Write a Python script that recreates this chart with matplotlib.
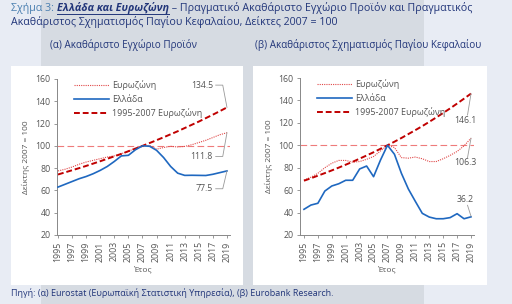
import matplotlib
matplotlib.use("Agg")
import matplotlib.pyplot as plt
from matplotlib.patches import Rectangle
from matplotlib.lines import Line2D

plt.rcParams['font.family'] = ['Open Sans', 'DejaVu Sans']

years = list(range(1995, 2020))

# (a) GDP, 2007 = 100
gdp_ez = [77.5, 79.0, 81.0, 83.5, 85.5, 87.0, 88.5, 90.0, 91.0, 93.0, 95.0, 98.0, 100.0,
          100.4, 97.0, 98.5, 99.6, 99.0, 99.5, 101.0, 103.0, 105.0, 107.5, 110.0, 111.8]
gdp_gr = [63.0, 65.5, 68.0, 70.5, 72.5, 75.0, 78.0, 81.5, 86.0, 91.0, 91.5, 96.5, 100.0,
          99.7, 96.0, 89.5, 81.5, 75.5, 73.5, 73.6, 73.5, 73.4, 74.5, 76.0, 77.5]
gdp_trend = [74.3, 76.2, 78.1, 80.0, 82.0, 84.1, 86.2, 88.4, 90.6, 92.8, 95.2, 97.5, 100.0,
             102.5, 105.1, 107.7, 110.4, 113.1, 116.0, 118.9, 121.8, 124.9, 128.0, 131.2, 134.5]

# (b) Gross fixed capital formation, 2007 = 100
gfcf_ez = [69.0, 71.5, 75.0, 80.0, 84.0, 86.5, 86.5, 85.0, 85.5, 87.5, 90.0, 95.0, 100.0,
           98.0, 89.0, 88.5, 89.5, 88.0, 85.5, 85.5, 88.0, 91.0, 94.5, 99.5, 106.3]
gfcf_gr = [42.9, 46.7, 48.3, 59.2, 63.7, 65.7, 68.8, 68.8, 78.9, 81.5, 72.0, 86.9, 100.0,
           92.0, 75.0, 61.0, 50.0, 39.3, 36.0, 34.5, 34.5, 35.5, 39.0, 34.5, 36.2]
gfcf_trend = [68.4, 70.6, 72.9, 75.2, 77.6, 80.1, 82.7, 85.3, 88.1, 90.9, 93.8, 96.9, 100.0,
              103.2, 106.5, 110.0, 113.5, 117.1, 120.9, 124.8, 128.8, 132.9, 137.2, 141.6, 146.1]

legend_labels = ['Ευρωζώνη', 'Ελλάδα', '1995-2007 Ευρωζώνη']
xticks = list(range(1995, 2020, 2))
yticks = [20, 40, 60, 80, 100, 120, 140, 160]

W, H = 512, 304
fig = plt.figure(figsize=(W / 100, H / 100), dpi=100)
fig.patch.set_facecolor('#e8ecf4')

def px_rect(x, y, w, h, color, z=0):
    fig.patches.append(Rectangle((x / W, 1 - (y + h) / H), w / W, h / H,
                                 transform=fig.transFigure, facecolor=color,
                                 edgecolor='none', zorder=z))

px_rect(41, 0, 383, 304, '#d6dbe2', 0)
px_rect(11, 66, 232, 219, 'white', 1)
px_rect(253, 66, 234, 219, 'white', 1)

NAVY = '#22367a'
TICK = '#555555'
fs_title = 7.7

def fy(y):
    return 1 - y / H

r = fig.canvas.get_renderer()
t1 = fig.text(11 / W, fy(8), 'Σχήμα 3: ', color='#4a7fb0', fontsize=fs_title, va='center', ha='left')
bb = t1.get_window_extent(r)
t2 = fig.text(bb.x1 / W, fy(8), 'Ελλάδα και Ευρωζώνη', color=NAVY, fontsize=fs_title,
              va='center', ha='left', fontweight='bold', fontstyle='italic')
bb2 = t2.get_window_extent(r)
fig.lines.append(Line2D([bb2.x0 / W, bb2.x1 / W], [fy(14), fy(14)], color=NAVY, lw=0.7,
                        transform=fig.transFigure))
fig.text(bb2.x1 / W, fy(8), ' – Πραγματικό Ακαθάριστο Εγχώριο Προϊόν και Πραγματικός',
         color=NAVY, fontsize=fs_title, va='center', ha='left')
fig.text(11 / W, fy(22), 'Ακαθάριστος Σχηματισμός Παγίου Κεφαλαίου, Δείκτες 2007 = 100',
         color=NAVY, fontsize=fs_title, va='center', ha='left')

fig.text(50 / W, fy(45), '(α) Ακαθάριστο Εγχώριο Προϊόν', color=NAVY, fontsize=7.15,
         va='center', ha='left')
fig.text(255 / W, fy(45), '(β) Ακαθάριστος Σχηματισμός Παγίου Κεφαλαίου', color=NAVY,
         fontsize=7.15, va='center', ha='left')
fig.text(11 / W, fy(293), 'Πηγή: (α) Eurostat (Ευρωπαϊκή Στατιστική Υπηρεσία), (β) Eurobank Research.',
         color=NAVY, fontsize=6.45, va='center', ha='left')


def make_axes(x0, x1, ytop, ybot, xl, ez, gr, tr):
    ax = fig.add_axes([x0 / W, 1 - ybot / H, (x1 - x0) / W, (ybot - ytop) / H])
    ax.set_facecolor('none')
    ax.set_zorder(3)
    ax.set_xlim(*xl)
    ax.set_ylim(20, 160)
    ax.axhline(100, color='#ee7b7b', lw=0.8, dashes=(6, 3), zorder=1)
    l1, = ax.plot(years, ez, color='#e04848', lw=0.8, ls=(0, (1, 1)), zorder=2)
    l2, = ax.plot(years, gr, color='#1f68c0', lw=1.2, zorder=3)
    l3, = ax.plot(years, tr, color='#c00000', lw=1.4, ls=(0, (3, 1.5)), zorder=2)
    for s in ['top', 'right']:
        ax.spines[s].set_visible(False)
    for s in ['left', 'bottom']:
        ax.spines[s].set_color('#888888')
        ax.spines[s].set_linewidth(0.7)
    ax.set_xticks(xticks)
    ax.set_xticklabels([str(x) for x in xticks], rotation=90)
    ax.set_yticks(yticks)
    ax.tick_params(axis='both', labelsize=6.3, colors='#888888', labelcolor=TICK,
                   length=2.5, width=0.6, pad=2)
    ax.set_ylabel('Δείκτης 2007 = 100', fontsize=6.0, color=TICK, labelpad=4)
    ax.set_xlabel('Έτος', fontsize=6.0, color=TICK, labelpad=3)
    ax.legend([l1, l2, l3], legend_labels, loc='upper left', bbox_to_anchor=(0.05, 1.045),
              frameon=False, fontsize=6.4, handlelength=4.0, handletextpad=0.3,
              labelspacing=0.55, labelcolor=TICK)
    return ax

axL = make_axes(57, 230, 79, 235, (1994.86, 2019.43), gdp_ez, gdp_gr, gdp_trend)
axR = make_axes(300, 474, 78, 235, (1994.43, 2019.43), gfcf_ez, gfcf_gr, gfcf_trend)

GR = '#999999'
ann_fs = 6.3

def left_ann(ax, val, ty, label):
    ax.text(2017.0, ty, label, fontsize=ann_fs, color=TICK, ha='right', va='center')
    ax.plot([2017.4, 2018.4, 2019], [ty, ty, val], color=GR, lw=0.6, zorder=4, clip_on=False)

left_ann(axL, gdp_trend[-1], 154.5, '134.5')
left_ann(axL, gdp_ez[-1], 90.5, '111.8')
left_ann(axL, gdp_gr[-1], 61.5, '77.5')

axR.text(2018.2, 122.5, '146.1', fontsize=ann_fs, color=TICK, ha='center', va='center')
axR.plot([2018.5, 2019], [127, gfcf_trend[-1]], color=GR, lw=0.6, zorder=4)
axR.text(2018.2, 84.5, '106.3', fontsize=ann_fs, color=TICK, ha='center', va='center')
axR.plot([2018.5, 2019], [89, gfcf_ez[-1]], color=GR, lw=0.6, zorder=4)
axR.text(2018.2, 51.5, '36.2', fontsize=ann_fs, color=TICK, ha='center', va='center')
axR.plot([2018.5, 2019], [46.5, gfcf_gr[-1] + 0.5], color=GR, lw=0.6, zorder=4)

fig.savefig('out.png', dpi=100, facecolor=fig.get_facecolor())
